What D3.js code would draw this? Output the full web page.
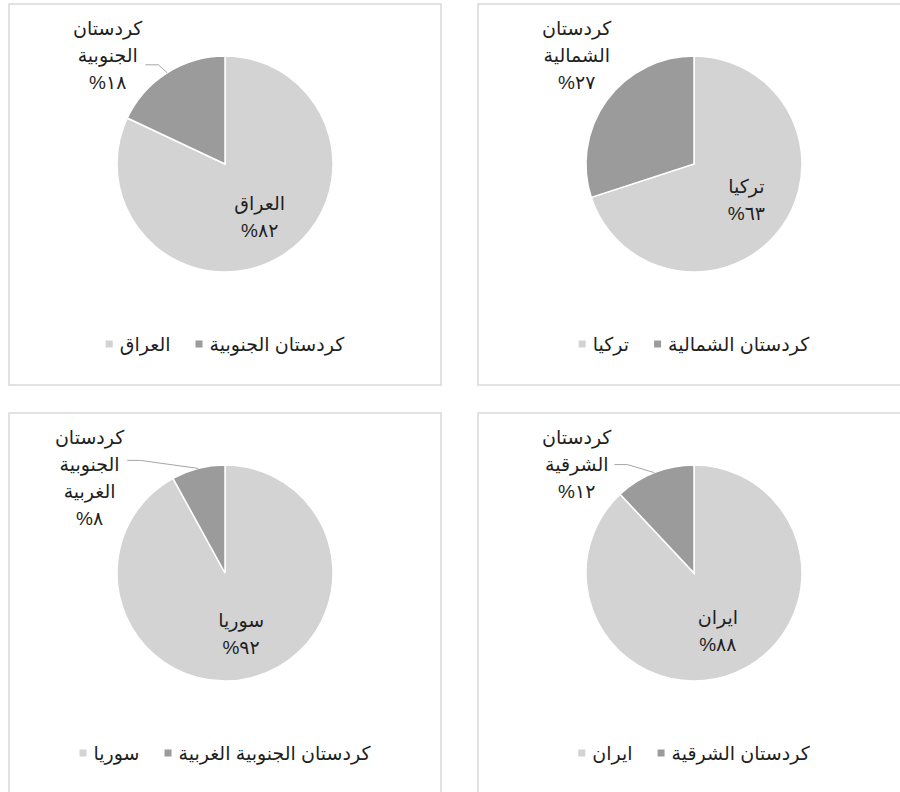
<!DOCTYPE html>
<html>
<head>
<meta charset="utf-8">
<script src="https://cdn.jsdelivr.net/npm/d3@7"></script>
<style>
    body { margin: 0; background: #fff; }
    svg { display: block; font-family: Arial, "Liberation Sans", "DejaVu Sans", sans-serif; }
</style>
</head>
<body>
<svg id="chart" width="900" height="792"></svg>
<script>
// one pie per country: the country's share and the Kurdistan part's share
const countries = ["العراق", "تركيا", "سوريا", "ايران"];
const kurdistanParts = ["كردستان الجنوبية", "كردستان الشمالية", "كردستان الجنوبية الغربية", "كردستان الشرقية"];
const countryShare = [82, 63, 92, 88];
const kurdistanShare = [18, 27, 8, 12];

const sliceColors = ["#d3d3d3", "#9b9b9b"];
const arabicDigits = "٠١٢٣٤٥٦٧٨٩";

function toArabic(n) {
    return String(n).replace(/\d/g, d => arabicDigits[d]) + "%";
}

class PieChart {
    radius = 108;
    fontSize = 19;
    lineHeight = 27;

    constructor(g, data, width = 432, height = 381) {
        this.g = g;
        this.data = data;
        this.width = width;
        this.height = height;
    }

    initialize() {
        this.g.append("rect")
            .attr("width", this.width)
            .attr("height", this.height)
            .attr("fill", "#fff")
            .attr("stroke", "#d9d9d9")
            .attr("stroke-width", 1.5);

        this.center = { x: this.width / 2, y: 160 };
        this.container = this.g.append("g")
            .attr("transform", `translate(${this.center.x}, ${this.center.y})`);
        this.slices = this.container.append("g");
        this.leaders = this.container.append("g");
        this.labels = this.container.append("g");
        this.legend = this.g.append("g");

        this.pie = d3.pie().sort(null).value(d => d.value);
        this.arc = d3.arc().innerRadius(0).outerRadius(this.radius);
        this.innerArc = d3.arc().innerRadius(this.radius * 0.6).outerRadius(this.radius * 0.6);
        this.edgeArc = d3.arc().innerRadius(this.radius).outerRadius(this.radius);
        this.color = d3.scaleOrdinal().domain([0, 1]).range(sliceColors);
    }

    update() {
        const arcs = this.pie(this.data);
        const r = this.radius;

        this.slices.selectAll("path")
            .data(arcs)
            .join("path")
            .attr("d", this.arc)
            .attr("fill", (d, i) => this.color(i))
            .attr("stroke", "#fff")
            .attr("stroke-width", 1.5);

        // big slice: label inside
        const big = arcs[0];
        const [bx, by] = this.innerArc.centroid(big);
        const inside = this.labels.append("text")
            .attr("text-anchor", "middle")
            .attr("direction", "rtl")
            .attr("font-size", this.fontSize)
            .attr("fill", "#1f1f1f");
        [big.data.name, toArabic(big.data.value)].forEach((t, i) => {
            inside.append("tspan")
                .attr("x", bx)
                .attr("y", by + (i - 0.5) * this.lineHeight - 2)
                .attr("dy", "0.35em")
                .text(t);
        });

        // small slice: label outside at the top, kept clear of the pie
        const small = arcs[1];
        const lines = small.data.name.split(" ").concat(toArabic(small.data.value));
        const firstY = -r - 28;
        const bottom = firstY + (lines.length - 1) * this.lineHeight + 9;
        const halfW = Math.abs(bottom) < r ? Math.sqrt(r * r - bottom * bottom) : 0;
        const right = -halfW - 3;

        const outside = this.labels.append("text")
            .attr("text-anchor", "middle")
            .attr("direction", "rtl")
            .attr("font-size", this.fontSize)
            .attr("fill", "#1f1f1f");
        const spans = lines.map((t, i) => outside.append("tspan")
            .attr("y", firstY + i * this.lineHeight)
            .attr("dy", "0.35em")
            .text(t));
        const w = d3.max(spans, s => s.node().getComputedTextLength());
        spans.forEach(s => s.attr("x", right - w / 2));

        const [ex, ey] = this.edgeArc.centroid(small);
        if (ex - right > 15) {
            const hy = ey - 8;
            this.leaders.append("path")
                .attr("d", `M${right + 3},${hy}H${right + 16}L${ex},${ey}`)
                .attr("fill", "none")
                .attr("stroke", "#a6a6a6")
                .attr("stroke-width", 1);
        }

        // legend: square then name, left to right
        let cursor = 0;
        this.data.forEach((d, i) => {
            this.legend.append("rect")
                .attr("x", cursor)
                .attr("y", -3.5)
                .attr("width", 7)
                .attr("height", 7)
                .attr("fill", this.color(i));
            cursor += 14;
            const txt = this.legend.append("text")
                .attr("text-anchor", "middle")
                .attr("direction", "rtl")
                .attr("dy", "0.35em")
                .attr("font-size", this.fontSize)
                .attr("fill", "#1f1f1f")
                .text(d.name);
            const tw = txt.node().getComputedTextLength();
            txt.attr("x", cursor + tw / 2);
            cursor += tw + 25;
        });
        const total = cursor - 25;
        this.legend.attr("transform", `translate(${this.width / 2 - total / 2}, 340)`);
    }
}

const svg = d3.select("#chart");
const origins = [[9, 4], [478, 4], [9, 413], [478, 413]];

countries.forEach((c, i) => {
    const data = [
        { name: c, value: countryShare[i] },
        { name: kurdistanParts[i], value: kurdistanShare[i] }
    ];
    const g = svg.append("g").attr("transform", `translate(${origins[i][0]}, ${origins[i][1]})`);
    const chart = new PieChart(g, data);
    chart.initialize();
    chart.update();
});
</script>
</body>
</html>
